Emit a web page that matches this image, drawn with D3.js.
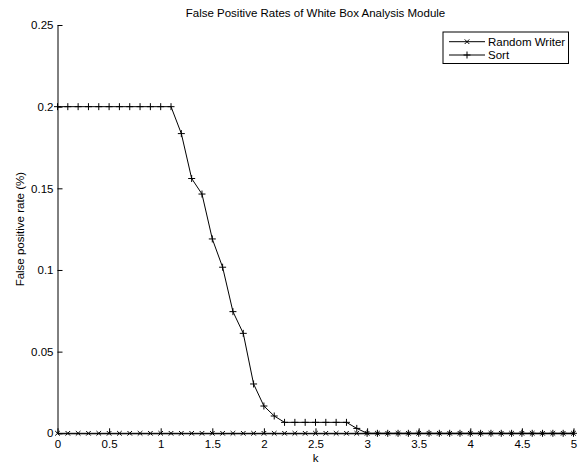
<!DOCTYPE html>
<html>
<head>
<meta charset="utf-8">
<script src="https://cdn.jsdelivr.net/npm/d3@7"></script>
<style>
  body { margin: 0; background: #fff; }
  text { font-family: "Liberation Sans", Arial, sans-serif; font-size: 11.5px; fill: #000; }
</style>
</head>
<body>
<svg class="chart"></svg>
<script>
var kValues = d3.range(0, 51).map(function(i) { return +(i / 10).toFixed(1); });
var randomWriter = kValues.map(function() { return 0; });
var sortRates = [0.2, 0.2, 0.2, 0.2, 0.2, 0.2, 0.2, 0.2, 0.2, 0.2, 0.2, 0.2,
  0.1835, 0.156, 0.1465, 0.119, 0.1017, 0.0745, 0.0612, 0.0302, 0.0167,
  0.0106, 0.0067, 0.0067, 0.0067, 0.0067, 0.0067, 0.0067, 0.0067, 0.003,
  0, 0, 0, 0, 0, 0, 0, 0, 0, 0, 0, 0, 0, 0, 0, 0, 0, 0, 0, 0, 0];
var xTicks = [0, 0.5, 1, 1.5, 2, 2.5, 3, 3.5, 4, 4.5, 5];
var yTicks = [0, 0.05, 0.1, 0.15, 0.2, 0.25];
var seriesNames = ["Random Writer", "Sort"];

var width = 580, height = 463;
var margin = { left: 57.5, right: 6.5, top: 25, bottom: 29.7 };

var svg = d3.select(".chart")
    .attr("width", width)
    .attr("height", height);

var x = d3.scaleLinear().domain([0, 5]).range([margin.left, width - margin.right]);
var y = d3.scaleLinear().domain([0, 0.25]).range([height - margin.bottom, margin.top]);

// axes, ticks pointing inward
svg.append("g")
    .attr("transform", "translate(0," + y(0) + ")")
    .call(d3.axisBottom(x).tickValues(xTicks).tickSizeInner(-5).tickSizeOuter(0).tickPadding(7)
      .tickFormat(function(d) { return d; }))
    .call(function(g) {
      g.select(".domain").attr("stroke", "#000").attr("stroke-width", 1);
      g.selectAll(".tick line").attr("stroke", "#000");
      g.selectAll(".tick text").attr("font-size", null).attr("font-family", null).attr("dy", "0.71em");
    });

svg.append("g")
    .attr("transform", "translate(" + x(0) + ",0)")
    .call(d3.axisLeft(y).tickValues(yTicks).tickSizeInner(-5).tickSizeOuter(0).tickPadding(4)
      .tickFormat(function(d) { return d; }))
    .call(function(g) {
      g.select(".domain").attr("stroke", "#000").attr("stroke-width", 1);
      g.selectAll(".tick line").attr("stroke", "#000");
      g.selectAll(".tick text").attr("font-size", null).attr("font-family", null);
    });

// labels
svg.append("text")
    .attr("x", (x(0) + x(5)) / 2)
    .attr("y", 17.3)
    .attr("text-anchor", "middle")
    .text("False Positive Rates of White Box Analysis Module");

svg.append("text")
    .attr("x", (x(0) + x(5)) / 2)
    .attr("y", 462)
    .attr("text-anchor", "middle")
    .text("k");

svg.append("text")
    .attr("transform", "translate(23.5," + (y(0) + y(0.25)) / 2 + ") rotate(-90)")
    .attr("text-anchor", "middle")
    .text("False positive rate (%)");

var line = d3.line()
    .x(function(d) { return x(d[0]); })
    .y(function(d) { return y(d[1]); });

function crossPath(cx, cy, s) {
  return "M" + (cx - s) + "," + (cy - s) + "L" + (cx + s) + "," + (cy + s) +
    "M" + (cx - s) + "," + (cy + s) + "L" + (cx + s) + "," + (cy - s);
}
function plusPath(cx, cy, s) {
  return "M" + (cx - s) + "," + cy + "L" + (cx + s) + "," + cy +
    "M" + cx + "," + (cy - s) + "L" + cx + "," + (cy + s);
}

var rwData = kValues.map(function(k, i) { return [k, randomWriter[i]]; });
var sortData = kValues.map(function(k, i) { return [k, sortRates[i]]; });

svg.append("path")
    .datum(rwData)
    .attr("d", line)
    .attr("fill", "none")
    .attr("stroke", "#000")
    .attr("stroke-width", 1);

svg.append("path")
    .attr("d", rwData.map(function(d) { return crossPath(x(d[0]), y(d[1]), 2.3); }).join(""))
    .attr("fill", "none")
    .attr("stroke", "#000")
    .attr("stroke-width", 1);

svg.append("path")
    .datum(sortData)
    .attr("d", line)
    .attr("fill", "none")
    .attr("stroke", "#000")
    .attr("stroke-width", 1);

svg.append("path")
    .attr("d", sortData.map(function(d) { return plusPath(x(d[0]), y(d[1]), 3.5); }).join(""))
    .attr("fill", "none")
    .attr("stroke", "#000")
    .attr("stroke-width", 1);

// legend
var legend = svg.append("g");
legend.append("rect")
    .attr("x", 443)
    .attr("y", 32)
    .attr("width", 125.5)
    .attr("height", 31.5)
    .attr("fill", "#fff")
    .attr("stroke", "#000")
    .attr("stroke-width", 1);

var rowY = [41.7, 55];
seriesNames.forEach(function(name, i) {
  legend.append("line")
      .attr("x1", 449).attr("x2", 485)
      .attr("y1", rowY[i]).attr("y2", rowY[i])
      .attr("stroke", "#000").attr("stroke-width", 1);
  legend.append("path")
      .attr("d", i === 0 ? crossPath(467, rowY[i], 2.3) : plusPath(467, rowY[i], 3.5))
      .attr("fill", "none").attr("stroke", "#000").attr("stroke-width", 1);
  legend.append("text")
      .attr("x", 488)
      .attr("y", rowY[i])
      .attr("dy", "0.35em")
      .text(name);
});
</script>
</body>
</html>
